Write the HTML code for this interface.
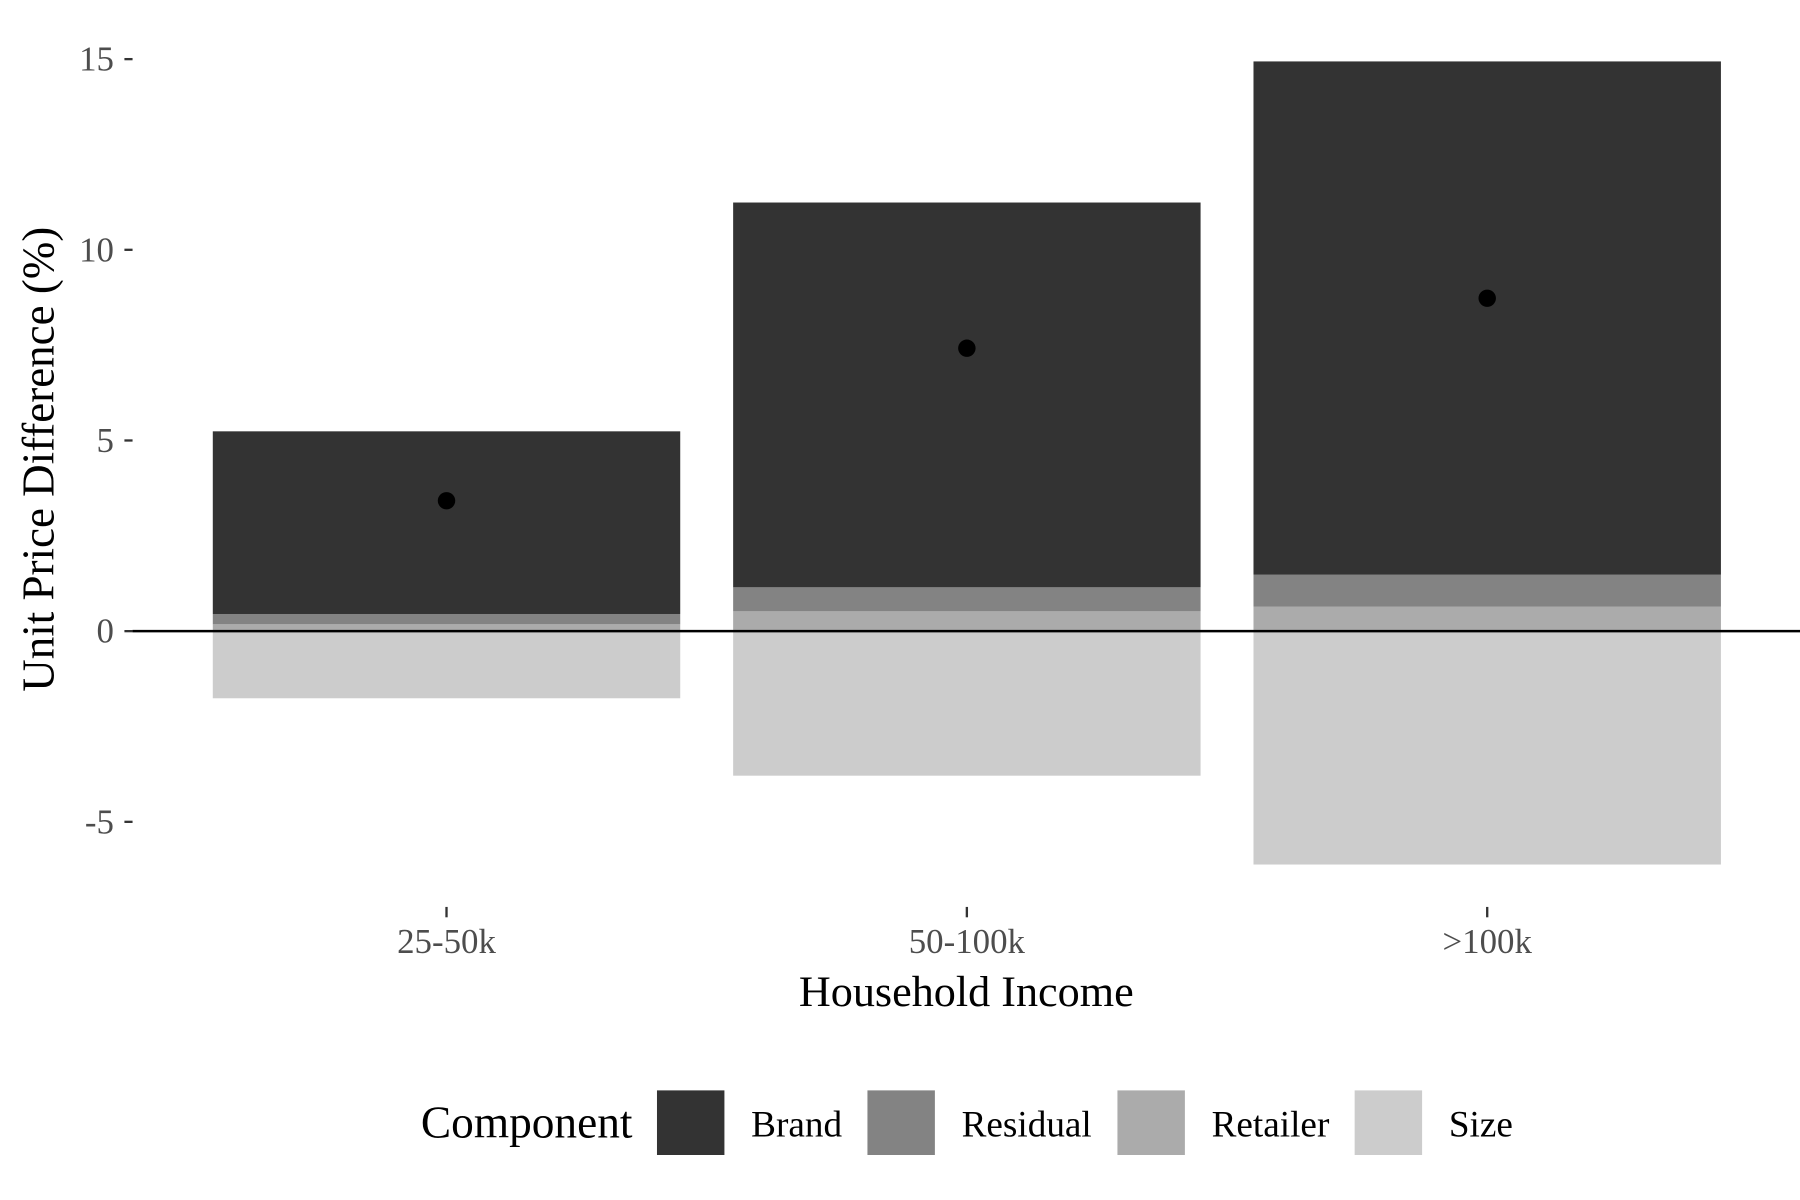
<!DOCTYPE html>
<html><head><meta charset="utf-8"><style>
html,body{margin:0;padding:0;background:#fff;}
svg{display:block;font-family:"Liberation Serif",serif;}
</style></head><body>
<svg id="chart" width="1800" height="1200" viewBox="0 0 1548 1040" preserveAspectRatio="none" xmlns="http://www.w3.org/2000/svg"></svg>
<script>
const categories = ["25-50k", "50-100k", ">100k"];
const retailerValues = [0.18, 0.52, 0.64];
const residualValues = [0.27, 0.63, 0.84];
const brandValues = [4.79, 10.09, 13.46];
const sizeValues = [-1.76, -3.79, -6.12];
const totalPoints = [3.42, 7.42, 8.73];
const yTicks = [15, 10, 5, 0, -5];
const legendLabels = ["Brand", "Residual", "Retailer", "Size"];

const NS = "http://www.w3.org/2000/svg";
const svg = document.getElementById("chart");
const y = v => 547 - v * 33.05;
const xCenter = i => 384 + i * 447.5;
const barW = 402;
function mk(tag, attrs, text) {
  const e = document.createElementNS(NS, tag);
  for (const k in attrs) e.setAttribute(k, attrs[k]);
  if (text !== undefined) e.textContent = text;
  svg.appendChild(e);
  return e;
}
yTicks.forEach(t => {
  const l = mk("line", {x1: 107, x2: 114, y1: y(t), y2: y(t), stroke: "#333", "stroke-width": 2});
  
  
  const tx = mk("text", {x: 98, y: y(t) + 10, "text-anchor": "end", "font-size": 30, fill: "#4d4d4d"}, String(t));
  
  
});
const colors = {brand: "#333333", residual: "#838383", retailer: "#ababab", size: "#cccccc"};
categories.forEach((c, i) => {
  const x0 = xCenter(i) - barW / 2;
  const segs = [
    ["size", 0, sizeValues[i]],
    ["retailer", 0, retailerValues[i]],
    ["residual", retailerValues[i], retailerValues[i] + residualValues[i]],
    ["brand", retailerValues[i] + residualValues[i], retailerValues[i] + residualValues[i] + brandValues[i]]
  ];
  segs.forEach(s => {
    const top = Math.min(y(s[1]), y(s[2])), bot = Math.max(y(s[1]), y(s[2]));
    const r = mk("rect", {x: x0, y: top, width: barW, height: bot - top, fill: colors[s[0]]});
    
    
  });
  const tm = mk("line", {x1: xCenter(i), x2: xCenter(i), y1: 786, y2: 795, stroke: "#333", "stroke-width": 2});
  
  
  const tl = mk("text", {x: xCenter(i), y: 826, "text-anchor": "middle", "font-size": 30, fill: "#4d4d4d"}, c);
  
  
});
const zl = mk("line", {x1: 114, x2: 1548, y1: y(0), y2: y(0), stroke: "#000", "stroke-width": 2.2});


totalPoints.forEach((v, i) => {
  const p = mk("circle", {cx: xCenter(i), cy: y(v), r: 7.5, fill: "#000"});
  
  
});
const xt = mk("text", {x: 831, y: 872, "text-anchor": "middle", "font-size": 38, fill: "#000"}, "Household Income");


const yt = mk("text", {x: 0, y: 0, "text-anchor": "middle", "font-size": 39, fill: "#000", transform: "translate(46,398) rotate(-90)"}, "Unit Price Difference (%)");


const lt = mk("text", {x: 362, y: 986, "font-size": 39, fill: "#000"}, "Component");


const keyX = [565, 746, 961, 1165];
const keyCols = [colors.brand, colors.residual, colors.retailer, colors.size];
legendLabels.forEach((lab, i) => {
  const k = mk("rect", {x: keyX[i], y: 945, width: 58, height: 56, fill: keyCols[i]});
  
  
  const t = mk("text", {x: keyX[i] + 81, y: 985, "font-size": 32, fill: "#000"}, lab);
  
  
});
</script>
</body></html>
